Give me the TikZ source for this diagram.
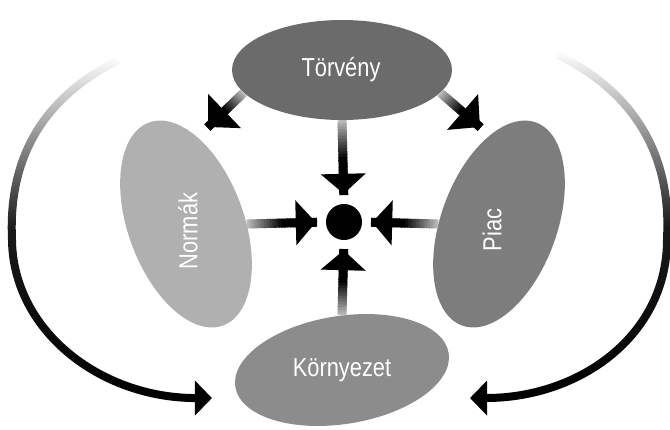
\documentclass[tikz,border=0pt]{standalone}
\usepackage{fontspec}
\setmainfont{Liberation Sans}[FakeStretch=0.84]
\usetikzlibrary{shapes.geometric,arrows.meta,fadings,calc}
\definecolor{lawgray}{gray}{0.42}
\definecolor{marketgray}{gray}{0.49}
\definecolor{envgray}{gray}{0.55}
\definecolor{normgray}{gray}{0.69}
\tikzfading[name=arcfade, top color=transparent!100, bottom color=transparent!0, middle color=transparent!10]
\tikzset{
blob/.style={ellipse, inner sep=0pt, draw=none},
blobtext/.style={text=white, font=\fontsize{26}{30}\selectfont, inner sep=0pt},
shaftpiece/.style={line width=9pt},
bigarc/.style={line width=8pt, path fading=arcfade, -{Triangle[width=34pt,length=17pt]}},
}
\begin{document}
\begin{tikzpicture}[x=1pt,y=-1pt]
\useasboundingbox (0,0) rectangle (670,429);
\node[blob, fill=lawgray, minimum width=220pt, minimum height=100pt] (torveny) at (342,70) {};
\node[blobtext] (torvenytext) at (341,70) {Törvény};
\node[blob, fill=normgray, rotate=20, minimum width=116pt, minimum height=216pt] (normak) at (186,224) {};
\node[blobtext, rotate=90] (normaktext) at (188,231) {Normák};
\node[blob, fill=marketgray, rotate=-20, minimum width=116pt, minimum height=216pt] (piac) at (499,224) {};
\node[blobtext, rotate=90] (piactext) at (492,230) {Piac};
\node[blob, fill=envgray, rotate=9, minimum width=216pt, minimum height=108pt] (kornyezet) at (342,370) {};
\node[blobtext] (kornyezettext) at (342,370) {Környezet};
\node[circle, fill=black, inner sep=0pt, minimum size=36pt] (dot) at (344,222) {};

\coordinate (normtip) at (208,127);
\coordinate (piactip) at (480,127);
\foreach \from/\to/\gap/\hw/\hl in {torveny.south/dot.north/10/44/20,
  kornyezet.81/dot.south/10/44/20, normak.-20/dot.west/10/44/20,
  piac.200/dot.east/10/44/20, torveny.193/normtip/0/46/23,
  torveny.-13/piactip/0/46/23}{
  \coordinate (tipend) at ($(\to)!\gap pt!(\from)$);
  \foreach \i in {0,...,23}{
    \pgfmathsetmacro\ink{min(100,28+72*\i/12)}
    \draw[shaftpiece, black!\ink] ($(\from)!\i/24!(tipend)$) -- ($(\from)!\i/24+0.06!(tipend)$);
  }
  \draw[shaftpiece, -{Triangle[width=\hw pt,length=\hl pt]}] ($(\from)!0.7!(tipend)$) -- (tipend);
}

\coordinate (leftstart) at (118,60);
\coordinate (leftside) at (12,238);
\coordinate (lefttip) at (212,398);
\coordinate (rightstart) at (558,55);
\coordinate (rightside) at (667,238);
\coordinate (righttip) at (470,398);
\draw[bigarc] (leftstart) .. controls (55,92) and (8,145) .. (leftside)
  .. controls (12,330) and (100,398) .. (lefttip);
\draw[bigarc] (rightstart) .. controls (625,88) and (672,145) .. (rightside)
  .. controls (668,335) and (580,398) .. (righttip);
\end{tikzpicture}
\end{document}
